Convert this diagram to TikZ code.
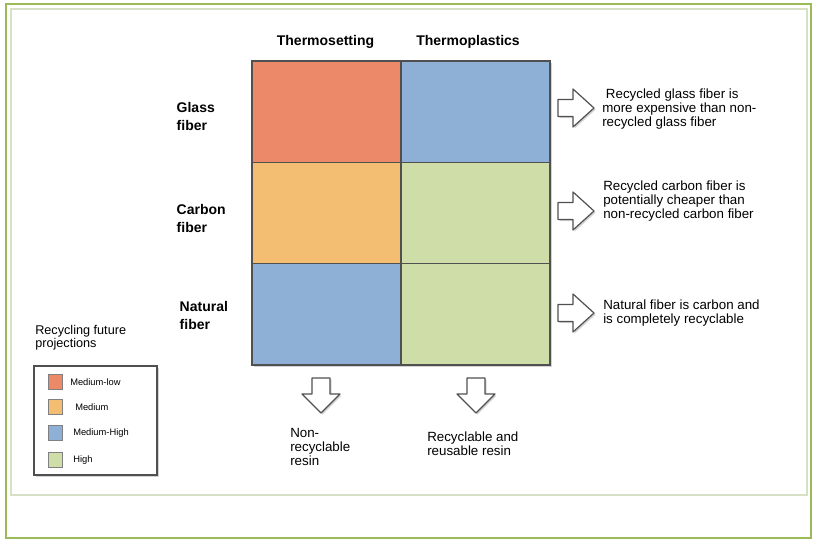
\documentclass[tikz,border=0pt]{standalone}
\usepackage{fontspec}
\setmainfont{Liberation Sans}
\usetikzlibrary{shadows}
\definecolor{lowred}{RGB}{236,137,104}
\definecolor{medorange}{RGB}{243,190,114}
\definecolor{medblue}{RGB}{142,176,214}
\definecolor{highgreen}{RGB}{207,221,169}
\definecolor{framegreen}{RGB}{155,187,89}
\definecolor{paleframe}{RGB}{214,224,196}
\definecolor{edgegray}{RGB}{80,80,80}

\begin{document}
\begin{tikzpicture}[x=0.75pt, y=-0.75pt,
  cell/.style={draw=edgegray, line width=1.1pt, minimum width=111.75pt, minimum height=76pt, inner sep=0pt},
  hdr/.style={font=\fontsize{10.5}{13.5}\selectfont\bfseries},
  rowlab/.style={anchor=west, align=left, font=\fontsize{10.5}{13.5}\selectfont\bfseries},
  note/.style={anchor=west, align=left, inner sep=0pt, font=\fontsize{10}{10.5}\selectfont},
  legtxt/.style={anchor=west, inner sep=0pt, font=\fontsize{7}{8}\selectfont},
  swatch/.style={draw=gray, line width=0.6pt, minimum size=11pt, inner sep=0pt},
  blockarrow/.style={draw=edgegray, fill=white, line width=0.9pt, line join=round,
    drop shadow={opacity=0.35, shadow xshift=1.2pt, shadow yshift=-1.2pt}},
  softshadow/.style={drop shadow={opacity=0.35, shadow xshift=1.5pt, shadow yshift=-1.5pt}}]
  \useasboundingbox (0,0) rectangle (813,539);
  % frames
  \draw[framegreen, line width=1.5pt] (6,4) rectangle (811,538);
  \draw[paleframe, line width=1.5pt] (11,9) rectangle (807,495);

  % matrix of cells
  \draw[softshadow, fill=white, draw=edgegray, line width=1.1pt] (252,61) rectangle (550,365);
  \node[cell, fill=lowred]    (gs) at (326.5,111.7) {};
  \node[cell, fill=medblue]   (gp) at (475.5,111.7) {};
  \node[cell, fill=medorange] (cs) at (326.5,213) {};
  \node[cell, fill=highgreen] (cp) at (475.5,213) {};
  \node[cell, fill=medblue]   (ns) at (326.5,314.3) {};
  \node[cell, fill=highgreen] (np) at (475.5,314.3) {};

  \node[hdr] (tset) at (325.5,42) {Thermosetting};
  \node[hdr] (tplas) at (468,42) {Thermoplastics};
  \node[rowlab] (glass) at (172,116) {Glass\\fiber};
  \node[rowlab] (carbon) at (172,218) {Carbon\\fiber};
  \node[rowlab] (natural) at (175,315) {Natural\\fiber};

  % block arrows
  \foreach \y in {108,211,313}
    \draw[blockarrow] (558,{\y-8.5}) -- (573,{\y-8.5}) -- (573,{\y-19}) -- (594,\y)
      -- (573,{\y+19}) -- (573,{\y+8.5}) -- (558,{\y+8.5}) -- cycle;
  \foreach \x in {321,476}
    \draw[blockarrow] ({\x-9},378) -- ({\x+9},378) -- ({\x+9},394) -- ({\x+19},394)
      -- (\x,413) -- ({\x-19},394) -- ({\x-9},394) -- cycle;

  \node[note] (gnote) at (602,109) {\ Recycled glass fiber is\\more expensive than non-\\recycled glass fiber};
  \node[note] (cnote) at (603,201.5) {Recycled carbon fiber is\\potentially cheaper than\\non-recycled carbon fiber};
  \node[note] (nnote) at (603,313) {Natural fiber is carbon and\\is completely recyclable};
  \node[note] (tsnote) at (290,446.5) {Non-\\recyclable\\resin};
  \node[note] (tpnote) at (427,443.5) {Recyclable and\\reusable resin};

  % legend
  \node[note, font=\fontsize{9.5}{9.5}\selectfont] (legtitle) at (35,338) {Recycling future\\projections};
  \draw[softshadow, fill=white, draw=edgegray, line width=1.1pt] (34,366) rectangle (157,475);
  \node[swatch, fill=lowred]    (s1) at (55.5,382) {};
  \node[swatch, fill=medorange] (s2) at (55.5,407) {};
  \node[swatch, fill=medblue]   (s3) at (55.5,433) {};
  \node[swatch, fill=highgreen] (s4) at (55.5,460) {};
  \node[legtxt] (l1) at (70,382) {Medium-low};
  \node[legtxt] (l2) at (75,407) {Medium};
  \node[legtxt] (l3) at (73,433) {Medium-High};
  \node[legtxt] (l4) at (73,460) {High};
\end{tikzpicture}
\end{document}
